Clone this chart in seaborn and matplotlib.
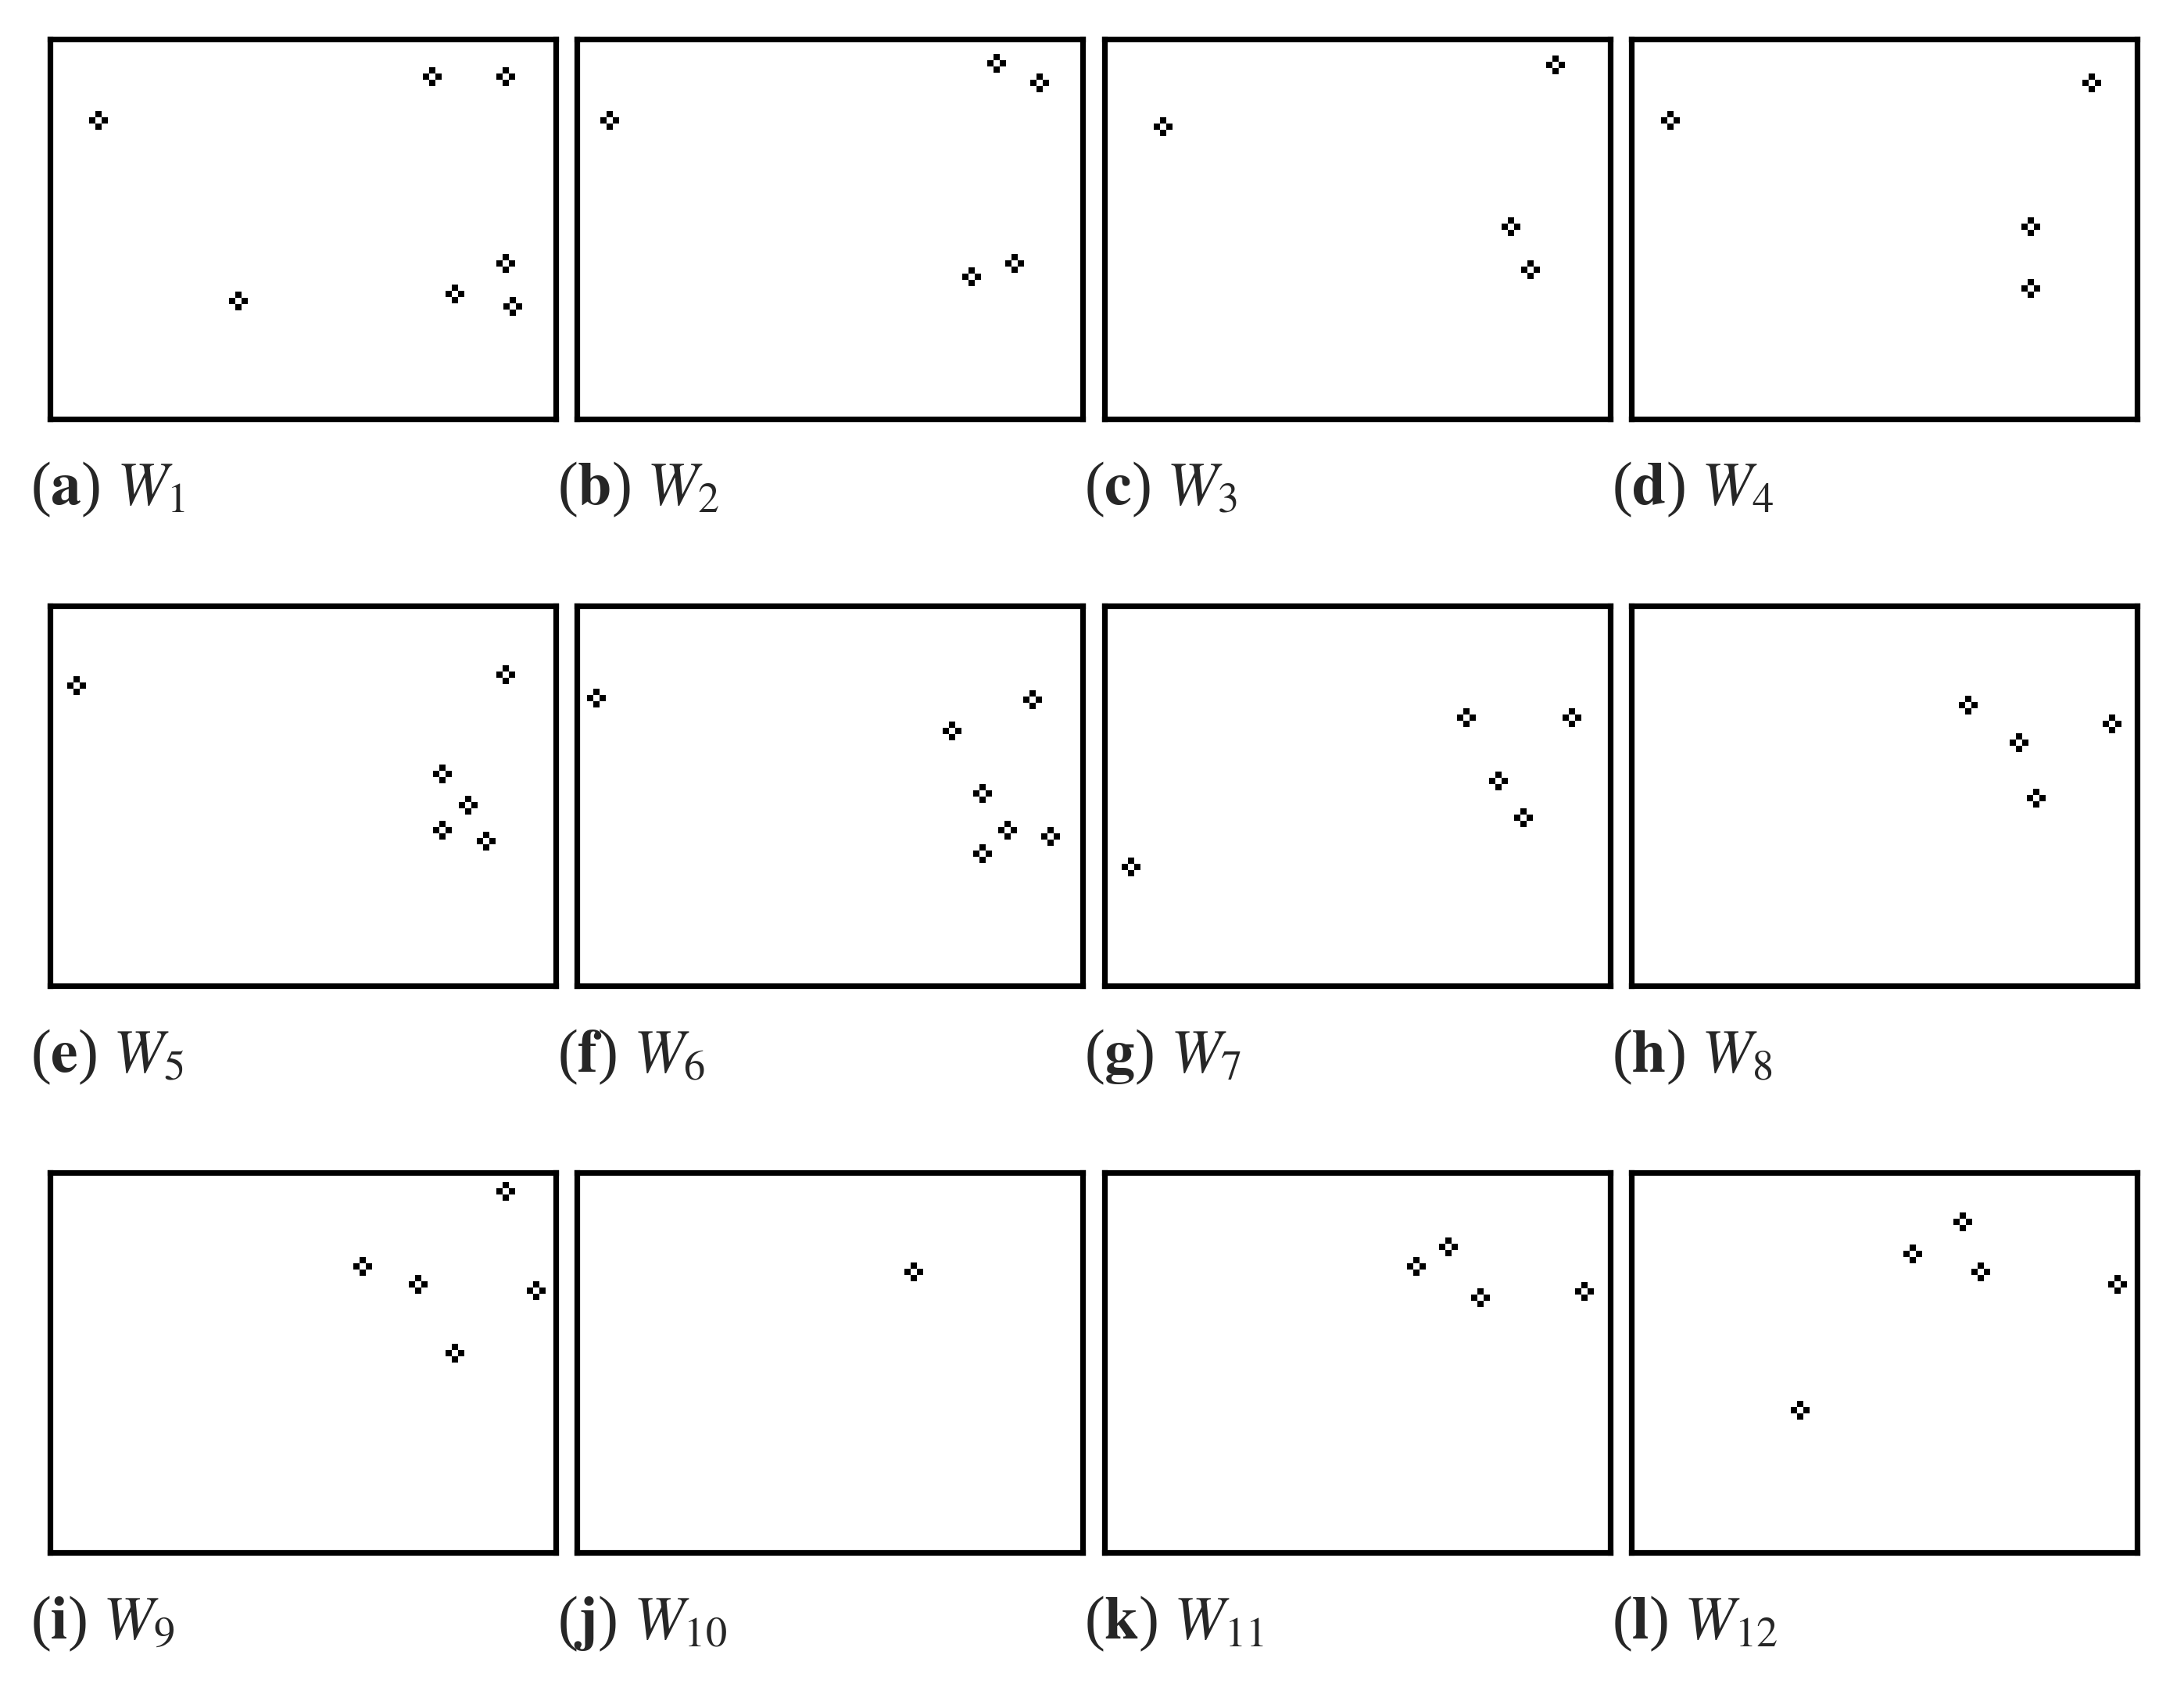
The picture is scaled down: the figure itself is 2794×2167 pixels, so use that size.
import numpy as np
import pandas as pd
import matplotlib
matplotlib.use("Agg")
import matplotlib.pyplot as plt
from matplotlib.path import Path
import seaborn as sns

# point positions per window, in grid cells (x to the right, y downward)
W1_X = [7.7, 60.4, 72.1, 29.8, 64.1, 72.1, 73.2]
W1_Y = [12.8, 6.0, 6.0, 41.4, 40.3, 35.5, 42.3]
W2_X = [5.1, 66.3, 73.2, 62.4, 69.2]
W2_Y = [12.8, 3.8, 6.9, 37.5, 35.5]
W3_X = [9.3, 71.4, 64.4, 67.4]
W3_Y = [13.9, 4.1, 29.6, 36.4]
W4_X = [6.2, 72.9, 63.2, 63.2]
W4_Y = [12.8, 6.9, 29.6, 39.4]
W5_X = [4.2, 72.1, 62.1, 66.1, 62.1, 69.0]
W5_Y = [12.6, 10.9, 26.5, 31.5, 35.5, 37.2]
W6_X = [3.1, 72.1, 59.3, 64.1, 68.1, 74.9, 64.1]
W6_Y = [14.6, 14.8, 19.7, 29.6, 35.5, 36.4, 39.2]
W7_X = [57.3, 74.0, 62.4, 66.3, 4.2]
W7_Y = [17.7, 17.7, 27.6, 33.5, 41.2]
W8_X = [53.3, 61.3, 76.0, 64.1]
W8_Y = [15.7, 21.6, 18.6, 30.4]
W9_X = [72.1, 49.4, 58.2, 76.9, 64.1]
W9_Y = [3.0, 14.8, 17.7, 18.6, 28.5]
W10_X = [53.3]
W10_Y = [15.7]
W11_X = [49.4, 54.4, 59.5, 76.0]
W11_Y = [14.8, 11.7, 19.7, 18.8]
W12_X = [52.4, 44.5, 55.3, 76.9, 26.7]
W12_Y = [7.8, 12.8, 15.7, 17.7, 37.5]

letters = list("abcdefghijkl")
xs = [W1_X, W2_X, W3_X, W4_X, W5_X, W6_X, W7_X, W8_X, W9_X, W10_X, W11_X, W12_X]
ys = [W1_Y, W2_Y, W3_Y, W4_Y, W5_Y, W6_Y, W7_Y, W8_Y, W9_Y, W10_Y, W11_Y, W12_Y]

rows = []
for i, (px, py) in enumerate(zip(xs, ys)):
    for a, b in zip(px, py):
        rows.append({"window": i + 1, "x": a, "y": b})
df = pd.DataFrame(rows)

# hollow plus marker: four square cells around an empty centre
def cell(cx, cy):
    return [(cx - 0.5, cy - 0.5), (cx + 0.5, cy - 0.5), (cx + 0.5, cy + 0.5),
            (cx - 0.5, cy + 0.5), (cx - 0.5, cy - 0.5)]

verts, codes = [], []
for cx, cy in [(0, 1), (0, -1), (-1, 0), (1, 0)]:
    verts += cell(cx, cy)
    codes += [Path.MOVETO, Path.LINETO, Path.LINETO, Path.LINETO, Path.CLOSEPOLY]
plus_marker = Path(verts, codes)

sns.set_style("white")
plt.rcParams["mathtext.fontset"] = "stix"
plt.rcParams["font.family"] = ["Liberation Serif", "DejaVu Serif"]

fig, axes = plt.subplots(3, 4, figsize=(13.97, 10.835), dpi=200)
fig.subplots_adjust(left=0.0229, right=0.9785, top=0.977, bottom=0.0835,
                    wspace=0.042, hspace=0.492)

for i, ax in enumerate(axes.flat):
    sub = df[df["window"] == i + 1]
    sns.scatterplot(data=sub, x="x", y="y", marker=plus_marker, s=75,
                    color="black", linewidth=0, ax=ax, legend=False)
    ax.set_xlim(0, 80)
    ax.set_ylim(60, 0)
    ax.set_xticks([])
    ax.set_yticks([])
    ax.set_xlabel("")
    ax.set_ylabel("")
    for sp in ax.spines.values():
        sp.set_visible(True)
        sp.set_linewidth(2.6)
        sp.set_color("black")
    ax.text(-0.039, -0.187, rf"($\mathbf{{{letters[i]}}}$) $W_{{{i + 1}}}$",
            transform=ax.transAxes, ha="left", va="center", fontsize=28)

fig.savefig("out.png", dpi=200)
